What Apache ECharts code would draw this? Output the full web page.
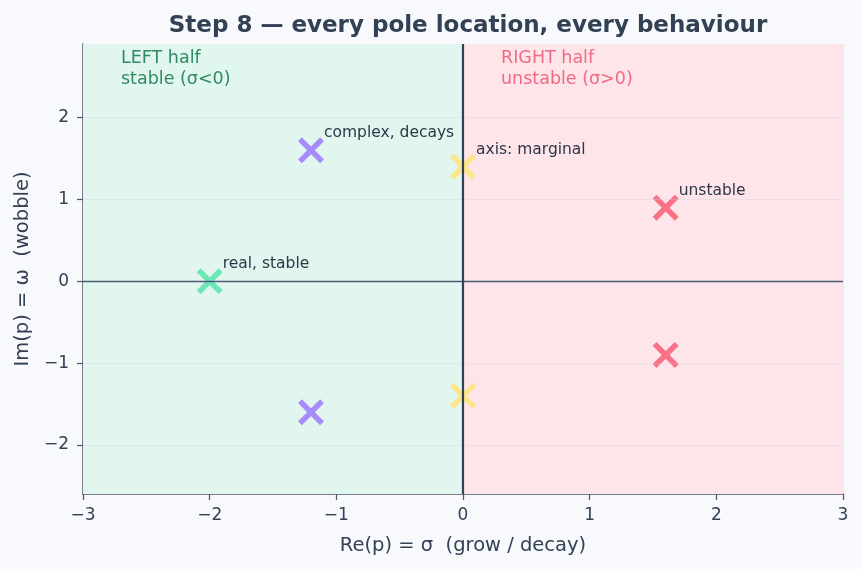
<!DOCTYPE html>
<html>
<head>
<meta charset="utf-8">
<script src="https://cdn.jsdelivr.net/npm/echarts@6/dist/echarts.min.js"></script>
<style>
  html, body { margin: 0; padding: 0; background: #f8f9fc; }
  #main { width: 862px; height: 569px; }
</style>
</head>
<body>
<div id="main"></div>
<script>
// poles (re, im) and their annotations
var poleRe = [-2, -1.2, -1.2, 0, 0, 1.6, 1.6];
var poleIm = [0, 1.6, -1.6, 1.4, -1.4, 0.9, -0.9];
var poleColors = ['#6ee7b7', '#a78bfa', '#a78bfa', '#fde68a', '#fde68a', '#f87187', '#f87187'];
var poleLabels = ['real, stable', 'complex, decays', '', 'axis: marginal', '', 'unstable', ''];

var xTicks = [-3, -2, -1, 0, 1, 2, 3];
var yTicks = [-2, -1, 0, 1, 2];
var xMin = -3, xMax = 3, yMin = -2.6, yMax = 2.9;

var FONT = 'DejaVu Sans';
var minus = function (v) { return String(v).replace('-', '\u2212'); };

myChart = echarts.init(document.getElementById('main'));

var poleData = poleRe.map(function (re, i) {
    return {
        value: [re, poleIm[i]],
        itemStyle: { color: poleColors[i], opacity: 1 },
        label: { show: poleLabels[i] !== '', formatter: poleLabels[i] }
    };
});

// X marker as a filled polygon
var xMark = 'path://M0,15L15,0L50,35L85,0L100,15L65,50L100,85L85,100L50,65L15,100L0,85L35,50Z';

var option = {
    backgroundColor: '#f8f9fc',
    animation: false,
    title: {
        text: 'Step 8 \u2014 every pole location, every behaviour',
        left: 463,
        textAlign: 'center',
        top: 10,
        textStyle: { fontFamily: FONT, fontSize: 23, fontWeight: 'bold', color: '#334155' }
    },
    grid: { left: 83, right: 19, top: 44, bottom: 75 },
    xAxis: {
        type: 'value',
        min: xMin, max: xMax, interval: 1,
        name: 'Re(p) = \u03c3  (grow / decay)',
        nameLocation: 'middle', nameGap: 42,
        nameTextStyle: { fontFamily: FONT, fontSize: 19.5, color: '#334155' },
        axisLine: { show: true, onZero: false, lineStyle: { color: '#4b5563', width: 1.5 } },
        axisTick: { show: true, length: 6, lineStyle: { color: '#4b5563', width: 1.2 } },
        axisLabel: { fontFamily: FONT, fontSize: 17, color: '#334155', margin: 13, formatter: minus },
        splitLine: { show: true, lineStyle: { color: 'rgba(200,210,220,0.35)', width: 1 } }
    },
    yAxis: {
        type: 'value',
        min: yMin, max: yMax,
        name: 'Im(p) = \u03c9  (wobble)',
        nameLocation: 'middle', nameGap: 50,
        nameTextStyle: { fontFamily: FONT, fontSize: 19.5, color: '#334155' },
        axisLine: { show: true, onZero: false, lineStyle: { color: '#4b5563', width: 1.5 } },
        axisTick: { show: true, length: 6, customValues: yTicks, lineStyle: { color: '#4b5563', width: 1.2 } },
        axisLabel: { fontFamily: FONT, fontSize: 17, color: '#334155', margin: 14, customValues: yTicks, formatter: minus },
        splitLine: { show: false }
    },
    series: [
        {
            // half-plane shading, grid lines, horizontal zero line
            type: 'scatter',
            data: [],
            silent: true,
            markArea: {
                silent: true,
                itemStyle: { opacity: 1 },
                data: [
                    [{ coord: [xMin, yMin], itemStyle: { color: '#e1f6ef' } }, { coord: [0, yMax] }],
                    [{ coord: [0, yMin], itemStyle: { color: '#fde5e9' } }, { coord: [xMax, yMax] }]
                ]
            },
            markLine: {
                silent: true,
                symbol: 'none',
                label: { show: false },
                data: yTicks.map(function (t) {
                    return { yAxis: t, lineStyle: { color: 'rgba(200,210,220,0.35)', width: 1, type: 'solid' } };
                }).concat([{ yAxis: 0, lineStyle: { color: '#4b5a75', width: 1.3, type: 'solid' } }])
            }
        },
        {
            name: 'poles',
            type: 'scatter',
            symbol: xMark,
            symbolSize: 26,
            z: 3,
            data: poleData,
            label: {
                position: 'right',
                distance: 0,
                offset: [0, -17],
                fontFamily: FONT,
                fontSize: 15.5,
                color: '#2d3748'
            }
        },
        {
            // vertical zero line and half-plane captions
            type: 'scatter',
            data: [],
            silent: true,
            z: 5,
            markLine: {
                silent: true,
                symbol: 'none',
                label: { show: false },
                data: [{ xAxis: 0, lineStyle: { color: '#334155', width: 2.2, type: 'solid' } }]
            },
            markPoint: {
                symbol: 'circle',
                symbolSize: 0,
                data: [
                    {
                        coord: [-2.7, 2.6],
                        label: {
                            show: true, position: 'right', distance: 0,
                            formatter: 'LEFT half\nstable (\u03c3<0)',
                            fontFamily: FONT, fontSize: 17.5, lineHeight: 21, color: '#2e8b62'
                        }
                    },
                    {
                        coord: [0.3, 2.6],
                        label: {
                            show: true, position: 'right', distance: 0,
                            formatter: 'RIGHT half\nunstable (\u03c3>0)',
                            fontFamily: FONT, fontSize: 17.5, lineHeight: 21, color: '#f06a85'
                        }
                    }
                ]
            }
        }
    ]
};

myChart.setOption(option);
</script>
</body>
</html>
